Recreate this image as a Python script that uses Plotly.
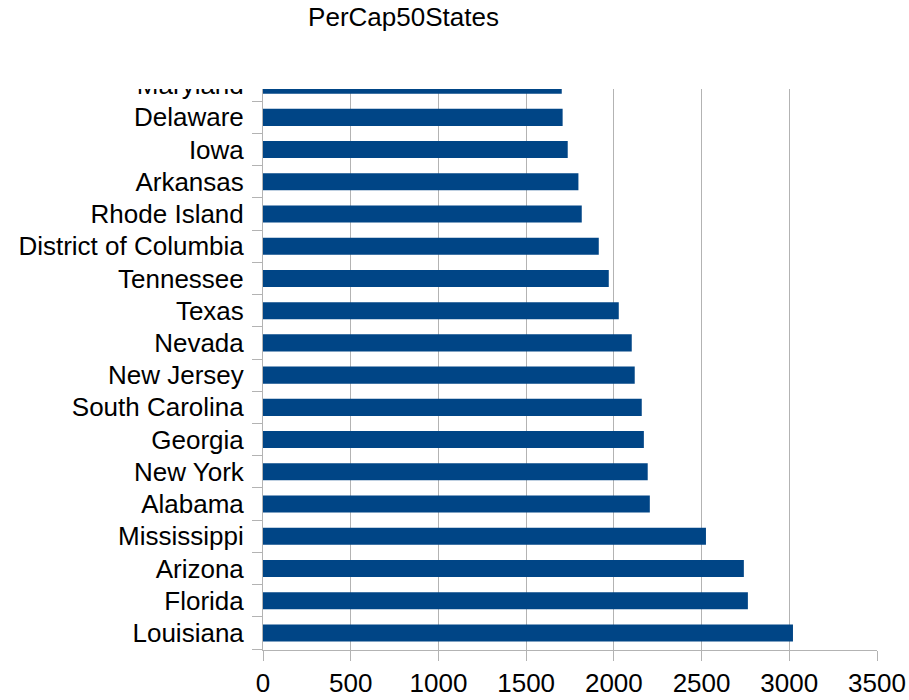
import plotly.graph_objects as go

# Categories from bottom to top (as drawn)
states = [
    "Louisiana", "Florida", "Arizona", "Mississippi", "Alabama", "New York",
    "Georgia", "South Carolina", "New Jersey", "Nevada", "Texas", "Tennessee",
    "District of Columbia", "Rhode Island", "Arkansas", "Iowa", "Delaware",
    "Maryland",
]
per_cap = [
    3021, 2764, 2741, 2525, 2205, 2193,
    2171, 2159, 2119, 2102, 2028, 1971,
    1914, 1817, 1798, 1737, 1708,
    1703,
]
x_ticks = [0, 500, 1000, 1500, 2000, 2500, 3000, 3500]

W, H = 909, 700
ML, MR, MT, MB = 263, 32, 69, 50
plot_h = H - MT - MB
GRID = "#b3b3b3"
FONT = "Liberation Sans"

fig = go.Figure()
fig.add_trace(go.Bar(
    x=per_cap, y=states, orientation="h",
    marker=dict(color="#004586", line=dict(width=0)),
    hoverinfo="x+y",
))

# visible top of the plot area (px from top) and clip line for the top label
plot_top_px = 89
label_clip_px = 83
y_plot_top = (H - MB - plot_top_px) / plot_h
y_label_clip = (H - MB - label_clip_px) / plot_h

fig.update_layout(
    width=W, height=H,
    margin=dict(l=ML, r=MR, t=MT, b=MB, pad=0, autoexpand=False),
    paper_bgcolor="white", plot_bgcolor="white",
    bargap=0.47,
    showlegend=False,
    font=dict(family=FONT, color="black"),
    title=dict(
        text="PerCap50States",
        font=dict(family=FONT, size=26, color="black"),
        x=403.5 / W, xref="container", xanchor="center",
        y=1 - 17 / H, yref="container", yanchor="middle",
        automargin=False,
    ),
    xaxis=dict(
        range=[0, 3500], tickvals=x_ticks,
        showgrid=True, gridcolor=GRID, gridwidth=1,
        showline=True, linecolor=GRID, linewidth=1,
        ticks="outside", ticklen=10, tickcolor=GRID, tickwidth=1,
        tickfont=dict(family=FONT, size=26, color="black"),
        zeroline=False, automargin=False,
    ),
    yaxis=dict(
        type="category", categoryorder="array", categoryarray=states,
        range=[-0.53, 17.5],
        showgrid=False,
        showline=True, linecolor=GRID, linewidth=1,
        ticks="outside", tickson="boundaries", ticklen=10,
        tickcolor=GRID, tickwidth=1,
        tickfont=dict(family=FONT, size=26, color="black"),
        ticklabelstandoff=13,
        zeroline=False, automargin=False,
    ),
    shapes=[
        dict(type="rect", xref="paper", yref="paper", layer="above",
             x0=-0.5, x1=1.1, y0=y_plot_top, y1=1.05,
             fillcolor="white", line=dict(width=0)),
        dict(type="rect", xref="paper", yref="paper", layer="above",
             x0=-0.5, x1=-0.003, y0=y_label_clip, y1=1.05,
             fillcolor="white", line=dict(width=0)),
    ],
)

fig.write_html(
    "out.html",
    config={"displayModeBar": False},
    post_script="document.body.style.margin='0px';document.body.style.padding='0px';",
)
